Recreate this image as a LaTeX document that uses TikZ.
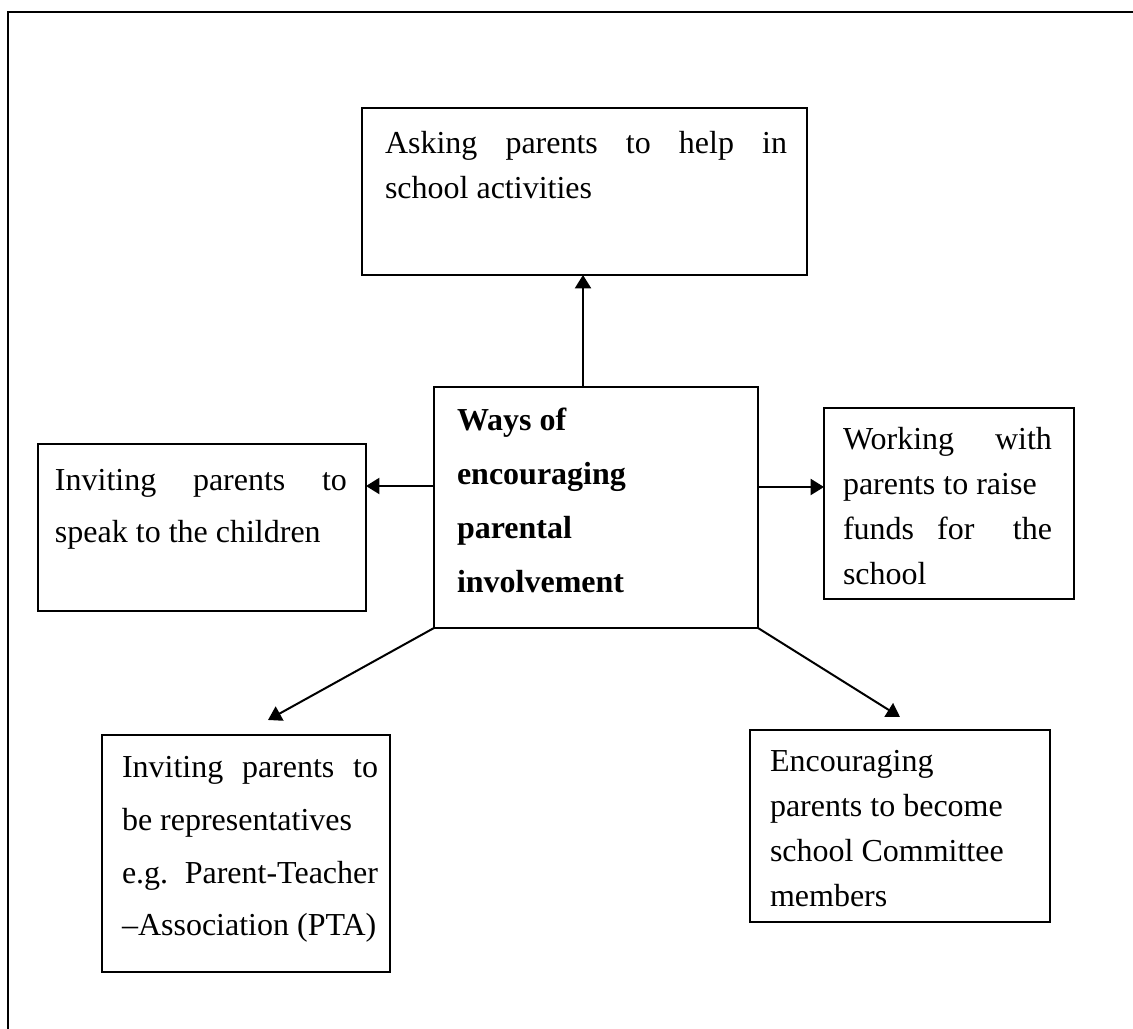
\documentclass[tikz,border=0pt]{standalone}
\usepackage{fontspec}
\setmainfont{Liberation Serif}
\usetikzlibrary{arrows.meta,fit}
\newdimen\pxu \pxu=0.375pt
\newcommand{\jl}[2]{\makebox[#1\pxu][s]{#2}}
\begin{document}
\begin{tikzpicture}[x=0.375pt,y=-0.375pt,
  box/.style={draw, line width=0.75pt, inner sep=0pt, outer sep=0pt},
  txt/.style={anchor=base west, inner sep=0pt, outer sep=0pt, font=\fontsize{12pt}{14pt}\selectfont},
  btxt/.style={txt, font=\fontsize{12pt}{14pt}\selectfont\bfseries},
  arr/.style={line width=0.75pt, -{Triangle[length=5pt,width=6pt]}}]
\useasboundingbox (0,0) rectangle (1133,1029);
\draw[line width=0.75pt] (8,1029) -- (8,12) -- (1133,12);
% boxes
\node[box, fit={(362,108)(807,275)}] (top) {};
\node[box, fit={(434,387)(758,628)}] (ctr) {};
\node[box, fit={(38,444)(366,611)}] (lft) {};
\node[box, fit={(824,408)(1074,599)}] (rgt) {};
\node[box, fit={(102,735)(390,972)}] (ll) {};
\node[box, fit={(750,730)(1050,922)}] (lr) {};
% texts
\node[txt] (top1) at (385,154) {\jl{402}{Asking parents to help in}};
\node[txt] (top2) at (385,199) {school activities};
\node[btxt] (c1) at (457,431) {Ways of};
\node[btxt] (c2) at (457,485) {encouraging};
\node[btxt] (c3) at (457,539) {parental};
\node[btxt] (c4) at (457,593) {involvement};
\node[txt] (l1) at (55,491) {\jl{292}{Inviting parents to}};
\node[txt] (l2) at (55,543) {speak to the children};
\node[txt] (r1) at (843,450) {\jl{209}{Working with}};
\node[txt] (r2) at (843,495) {parents to raise};
\node[txt] (r3) at (843,540) {\jl{209}{funds for\hspace{1.2em}the}};
\node[txt] (r4) at (843,585) {school};
\node[txt] (ll1) at (122,778) {\jl{256}{Inviting parents to}};
\node[txt] (ll2) at (122,831) {be representatives};
\node[txt] (ll3) at (122,884) {\jl{256}{e.g. Parent-Teacher}};
\node[txt] (ll4) at (122,936) {\textendash Association (PTA)};
\node[txt] (lr1) at (770,772) {Encouraging};
\node[txt] (lr2) at (770,817) {parents to become};
\node[txt] (lr3) at (770,862) {school Committee};
\node[txt] (lr4) at (770,907) {members};
% connectors
\coordinate (upx) at (583,0);
\coordinate (ly) at (0,486);
\coordinate (ry) at (0,487);
\coordinate (llt) at (268,720);
\coordinate (lrt) at (900,717);
\draw[arr] (ctr.north -| upx) -- (top.south -| upx);
\draw[arr] (ctr.west |- ly) -- (lft.east |- ly);
\draw[arr] (ctr.east |- ry) -- (rgt.west |- ry);
\draw[arr] (ctr.south west) -- (llt);
\draw[arr] (ctr.south east) -- (lrt);
\end{tikzpicture}
\end{document}
